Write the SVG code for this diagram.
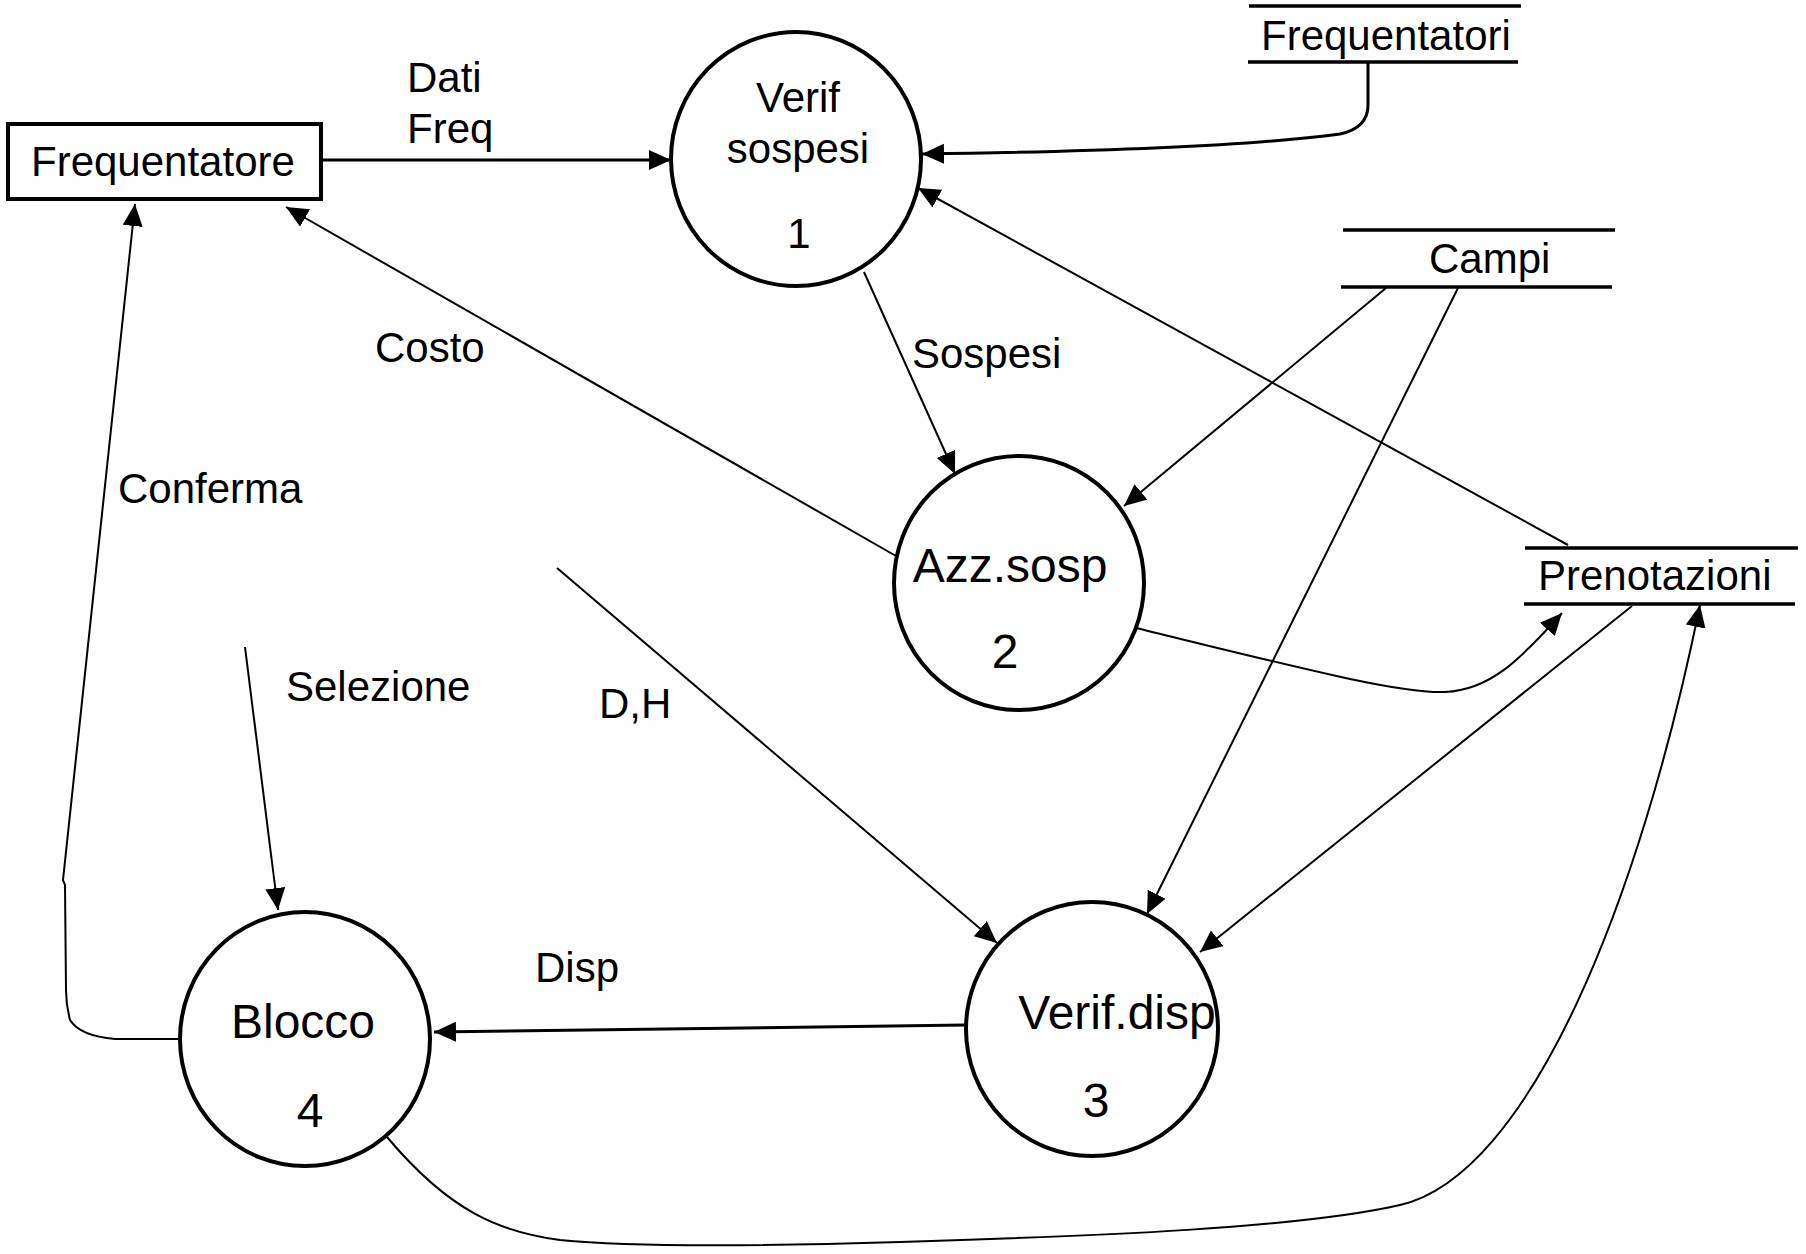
<svg xmlns="http://www.w3.org/2000/svg" width="1806" height="1254" viewBox="0 0 1806 1254">
  <style>
    text { font-family: "Liberation Sans", Arial, sans-serif; font-size: 42px; fill: #000; }
    .mid { text-anchor: middle; }
    .big { font-size: 48px; }
    .proc { fill: #fff; stroke: #000; stroke-width: 4; }
    .ent { fill: #fff; stroke: #000; stroke-width: 4; }
    .store { stroke: #000; stroke-width: 3.5; fill: none; }
    .flow { fill: none; stroke: #000; stroke-width: 2; marker-end: url(#arrow); }
    .flow.thick { stroke-width: 3; }
  </style>
  <defs>
    <marker id="arrow" markerUnits="userSpaceOnUse" markerWidth="24" markerHeight="22" refX="22" refY="10" orient="auto">
      <path d="M0,0 L22,10 L0,20 z" fill="#000"/>
    </marker>
  </defs>
  <rect width="1806" height="1254" fill="#fff"/>

  <!-- data flows -->
  <g id="connectors">
    <line class="flow thick" x1="321" y1="160" x2="671" y2="160"/>
    <path class="flow thick" d="M1368,62 V105 Q1368,128 1340,134 Q1220,150 922,154"/>
    <line class="flow" x1="1568" y1="545" x2="918" y2="188"/>
    <line class="flow" x1="864" y1="272" x2="955" y2="474"/>
    <line class="flow" x1="1386" y1="288" x2="1124" y2="506"/>
    <line class="flow" x1="1458" y1="288" x2="1147" y2="914"/>
    <line class="flow" x1="896" y1="556" x2="286" y2="207"/>
    <path class="flow" d="M1132,627 C1300,668 1400,694 1445,692 C1490,690 1520,660 1562,613"/>
    <line class="flow" x1="1632" y1="606" x2="1200" y2="952"/>
    <line class="flow" x1="557" y1="568" x2="997" y2="943"/>
    <line class="flow thick" x1="966" y1="1025" x2="434" y2="1032"/>
    <line class="flow" x1="245" y1="647" x2="278" y2="910"/>
    <path class="flow" d="M181,1039 H115 Q80,1036 70,1020 Q66,1005 66,990 L65,885 L63,880 L135,204"/>
    <path class="flow" d="M387,1137 C450,1212 500,1232 560,1240 C640,1248 800,1245 900,1242 C1100,1236 1300,1228 1400,1205 C1530,1175 1640,900 1700,605"/>
  </g>

  <!-- flow labels -->
  <g id="flow-labels">
    <text x="407" y="92">Dati</text>
    <text x="407" y="143">Freq</text>
    <text x="912" y="368">Sospesi</text>
    <text x="375" y="362">Costo</text>
    <text x="118" y="503">Conferma</text>
    <text x="286" y="701">Selezione</text>
    <text x="599" y="718">D,H</text>
    <text x="535" y="982">Disp</text>
  </g>

  <!-- external entity -->
  <g id="frequentatore">
    <rect class="ent" x="8" y="124" width="313" height="75"/>
    <text x="31" y="176">Frequentatore</text>
  </g>

  <!-- data stores -->
  <g id="store-frequentatori">
    <line class="store" x1="1249" y1="6" x2="1521" y2="6"/>
    <line class="store" x1="1248" y1="62" x2="1518" y2="62"/>
    <text x="1261" y="50">Frequentatori</text>
  </g>
  <g id="store-campi">
    <line class="store" x1="1343" y1="230" x2="1615" y2="230"/>
    <line class="store" x1="1341" y1="287" x2="1612" y2="287"/>
    <text x="1429" y="273">Campi</text>
  </g>
  <g id="store-prenotazioni">
    <line class="store" x1="1525" y1="548" x2="1798" y2="548"/>
    <line class="store" x1="1524" y1="604" x2="1795" y2="604"/>
    <text x="1538" y="590">Prenotazioni</text>
  </g>

  <!-- processes -->
  <g id="p1-verif-sospesi">
    <ellipse class="proc" cx="796" cy="159" rx="125" ry="127"/>
    <text class="mid" x="798" y="112">Verif</text>
    <text class="mid" x="798" y="163">sospesi</text>
    <text class="mid" x="799" y="248">1</text>
  </g>
  <g id="p2-azz-sosp">
    <ellipse class="proc" cx="1019" cy="583" rx="125" ry="127"/>
    <text class="mid big" x="1010" y="582">Azz.sosp</text>
    <text class="mid big" x="1005" y="668">2</text>
  </g>
  <g id="p3-verif-disp">
    <ellipse class="proc" cx="1092" cy="1029" rx="126" ry="127"/>
    <text class="mid big" x="1117" y="1029">Verif.disp</text>
    <text class="mid big" x="1096" y="1117">3</text>
  </g>
  <g id="p4-blocco">
    <ellipse class="proc" cx="305" cy="1039" rx="125" ry="127"/>
    <text class="mid big" x="303" y="1038">Blocco</text>
    <text class="mid big" x="310" y="1127">4</text>
  </g>
</svg>
